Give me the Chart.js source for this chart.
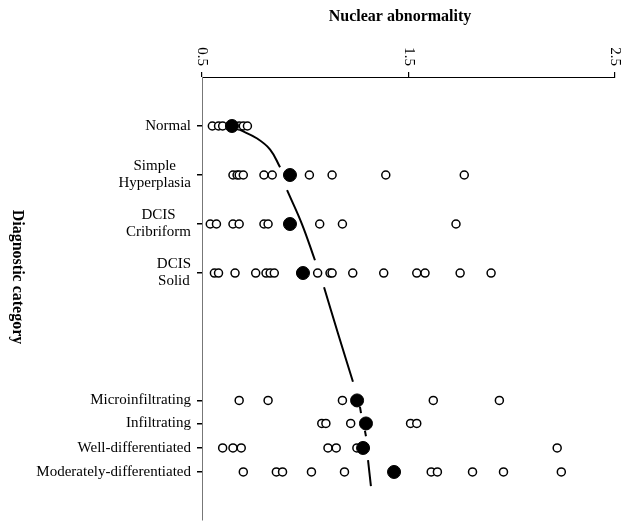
<!DOCTYPE html>
<html>
<head>
<meta charset="utf-8">
<script src="https://cdn.jsdelivr.net/npm/chart.js@4.4.0/dist/chart.umd.min.js"></script>
<style>
  body { margin: 0; background: #fff; }
</style>
</head>
<body>
<canvas id="chart" width="623" height="522"></canvas>
<script>
// Categorias del eje vertical y su posicion (filas no equiespaciadas)
const categories = ['Normal', 'Simple\nHyperplasia', 'DCIS\nCribriform', 'DCIS\nSolid',
  'Microinfiltrating', 'Infiltrating', 'Well-differentiated', 'Moderately-differentiated'];
const rowPos = [0, 1, 2, 3, 5.6, 6.07, 6.57, 7.06];

// Valores individuales (circulos abiertos) por categoria
const normalVals = [0.55, 0.58, 0.60, 0.68, 0.70, 0.72];
const simpleVals = [0.65, 0.67, 0.68, 0.70, 0.80, 0.84, 1.02, 1.13, 1.39, 1.77];
const cribriformVals = [0.54, 0.57, 0.65, 0.68, 0.80, 0.82, 1.07, 1.18, 1.73];
const solidVals = [0.56, 0.58, 0.66, 0.76, 0.81, 0.83, 0.85, 0.98, 1.06, 1.12, 1.13, 1.23, 1.38, 1.54, 1.58, 1.75, 1.90];
const microVals = [0.68, 0.82, 1.18, 1.62, 1.94];
const infiltratingVals = [1.08, 1.10, 1.22, 1.51, 1.54];
const wellVals = [0.60, 0.65, 0.69, 1.11, 1.15, 1.25, 2.22];
const moderateVals = [0.70, 0.86, 0.89, 1.03, 1.19, 1.61, 1.64, 1.81, 1.96, 2.24];

// Medias (circulos rellenos)
const means = [0.645, 0.926, 0.926, 0.989, 1.251, 1.294, 1.280, 1.430];

// Curva ajustada (null = hueco en la linea)
const curveX = [0.684, 0.765, 0.830, 0.878, null, 0.912, 0.984, 1.047, null, 1.091, 1.159, 1.231, null,
  1.265, 1.270, null, 1.289, 1.294, null, 1.304, 1.318];
const curveY = [0.08, 0.25, 0.48, 0.84, null, 1.31, 2.0, 2.74, null, 3.29, 4.24, 5.22, null,
  5.73, 5.86, null, 6.22, 6.33, null, 6.82, 7.35];

const xTicks = [0.5, 1.5, 2.5];

const valueLists = [normalVals, simpleVals, cribriformVals, solidVals, microVals, infiltratingVals, wellVals, moderateVals];
const openPoints = [];
valueLists.forEach((vals, i) => {
  vals.forEach(v => openPoints.push({ x: v, y: rowPos[i] }));
});
const meanPoints = means.map((m, i) => ({ x: m, y: rowPos[i] }));
const curvePoints = curveX.map((x, i) => ({ x: x, y: curveY[i] }));

const serif = '"Liberation Serif", "DejaVu Serif", serif';

// Textos dibujados a mano (rotaciones y etiquetas centradas)
const textPlugin = {
  id: 'textos',
  afterDraw(chart) {
    const ctx = chart.ctx;
    const xs = chart.scales.x, ys = chart.scales.y;
    ctx.save();
    ctx.fillStyle = '#000';

    ctx.font = 'bold 16px ' + serif;
    ctx.textAlign = 'center';
    ctx.textBaseline = 'middle';
    ctx.fillText('Nuclear abnormality', 400, 17);

    ctx.font = '15px ' + serif;
    xTicks.forEach(v => {
      ctx.save();
      ctx.translate(xs.getPixelForValue(v), 66);
      ctx.rotate(Math.PI / 2);
      ctx.textAlign = 'right';
      ctx.textBaseline = 'middle';
      ctx.fillText(v.toFixed(1), 0, 0);
      ctx.restore();
    });

    const lineH = 17;
    categories.forEach((label, i) => {
      const lines = label.split('\n');
      const w = Math.max(...lines.map(l => ctx.measureText(l).width));
      const cx = 191 - w / 2;
      const cy = ys.getPixelForValue(rowPos[i]);
      ctx.textAlign = 'center';
      ctx.textBaseline = 'middle';
      lines.forEach((l, k) => {
        ctx.fillText(l, cx, cy + (k - (lines.length - 1) / 2) * lineH);
      });
    });

    ctx.save();
    ctx.font = 'bold 16px ' + serif;
    ctx.translate(17, 277);
    ctx.rotate(Math.PI / 2);
    ctx.textAlign = 'center';
    ctx.textBaseline = 'middle';
    ctx.fillText('Diagnostic category', 0, 0);
    ctx.restore();

    ctx.restore();
  }
};

new Chart(document.getElementById('chart'), {
  type: 'scatter',
  data: {
    datasets: [
      {
        label: 'Media',
        data: meanPoints,
        pointRadius: 6.5,
        pointBackgroundColor: '#000',
        pointBorderColor: '#000',
        pointBorderWidth: 1
      },
      {
        label: 'Casos',
        data: openPoints,
        pointRadius: 4,
        pointBackgroundColor: '#fff',
        pointBorderColor: '#000',
        pointBorderWidth: 1.5
      },
      {
        type: 'line',
        label: 'Curva',
        data: curvePoints,
        showLine: true,
        spanGaps: false,
        borderColor: '#000',
        borderWidth: 2,
        pointRadius: 0,
        tension: 0.4,
        fill: false
      }
    ]
  },
  options: {
    responsive: false,
    animation: false,
    layout: { autoPadding: false, padding: { left: 197, top: 72, right: 8, bottom: 2 } },
    plugins: {
      legend: { display: false },
      tooltip: { enabled: false }
    },
    scales: {
      x: {
        type: 'linear',
        position: 'top',
        min: 0.5,
        max: 2.5,
        ticks: { display: false, stepSize: 1 },
        grid: { drawOnChartArea: false, drawTicks: true, tickLength: 5, color: '#000', lineWidth: 1.2 },
        border: { display: true, color: '#000', width: 1 }
      },
      y: {
        type: 'linear',
        position: 'left',
        reverse: true,
        min: -1,
        max: 8.04,
        afterBuildTicks: axis => { axis.ticks = rowPos.map(v => ({ value: v })); },
        ticks: { display: false },
        grid: { drawOnChartArea: false, drawTicks: true, tickLength: 5, color: '#000', lineWidth: 1.5 },
        border: { display: true, color: '#777', width: 1 }
      }
    }
  },
  plugins: [textPlugin]
});
</script>
</body>
</html>
